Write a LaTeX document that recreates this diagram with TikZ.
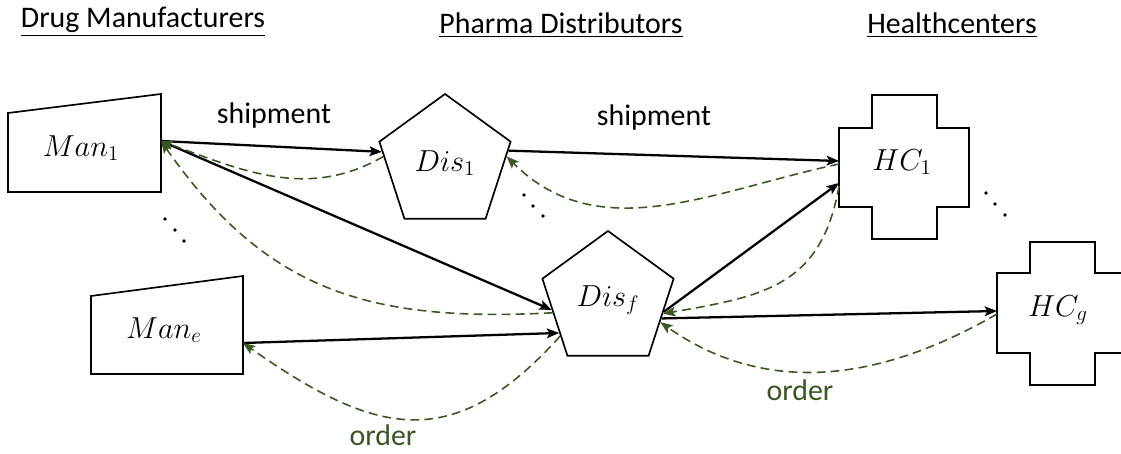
\documentclass[tikz,border=0pt]{standalone}
\usepackage{fontspec}
\setmainfont{Carlito}
\usetikzlibrary{arrows.meta,shapes.geometric}
\definecolor{ordergreen}{HTML}{385723}

\begin{document}
\begin{tikzpicture}[x=0.02cm,y=0.02cm,>={Stealth[length=7pt,width=5.5pt,inset=1.5pt]}]
\tikzstyle{every node}=[inner sep=0pt]
\tikzstyle{heading}=[font=\fontsize{17}{20}\selectfont]
\tikzstyle{flowlabel}=[font=\fontsize{17}{20}\selectfont]
\tikzstyle{unit}=[font=\fontsize{17.5}{20}\selectfont]
\tikzstyle{outline}=[draw,line width=0.95pt]
\tikzstyle{dist}=[outline,unit,regular polygon,regular polygon sides=5,minimum size=2.76cm]
\tikzstyle{ship}=[->,line width=1.3pt]
\tikzstyle{order}=[->,ordergreen,line width=0.9pt,dash pattern=on 5pt off 3pt]

\useasboundingbox (0,0) rectangle (1121,453);

% column headings
\node[heading] (hMan) at (143,431) {\underline{Drug Manufacturers}};
\node[heading] (hDis) at (561,428) {\underline{Pharma Distributors}};
\node[heading] (hHC)  at (952,428) {\underline{Healthcenters}};

% manufacturers
\draw[outline] (8,261) -- (8,340) -- (161,359) -- (161,261) -- cycle;
\node[unit] (Man1) at (81,305) {$Man_1$};
\draw[outline] (91,79) -- (91,157) -- (243,177) -- (243,79) -- cycle;
\node[unit] (Mane) at (164,123) {$Man_e$};
\coordinate (Man1p) at (161,312);
\coordinate (Manep) at (243,110);

% distributors
\node[dist] (Dis1) at (445,290) {$Dis_1$};
\node[dist] (Disf) at (608,153) {$Dis_f$};

% healthcenters
\draw[outline] (872,358) -- (937,358) -- (937,325) -- (969,325) -- (969,246) -- (937,246)
  -- (937,214) -- (872,214) -- (872,246) -- (839,246) -- (839,325) -- (872,325) -- cycle;
\node[unit] (HC1) at (902,291) {$HC_1$};
\draw[outline] (1030,211) -- (1095,211) -- (1095,180) -- (1128,180) -- (1128,100) -- (1095,100)
  -- (1095,68) -- (1030,68) -- (1030,100) -- (997,100) -- (997,180) -- (1030,180) -- cycle;
\node[unit] (HCg) at (1058,143) {$HC_g$};
\coordinate (HC1a) at (839,292);
\coordinate (HC1b) at (839,289);
\coordinate (HC1c) at (839,270);
\coordinate (HC1d) at (839,267);
\coordinate (HCga) at (997,142);
\coordinate (HCgb) at (997,139);

% dots
\foreach \p in {(165,234),(175,223),(184,212),(524,258),(533,247),(543,237),(986,260),(995,249),(1005,238)}
  \fill \p circle (1.8);

% shipments
\draw[ship] (Man1p) -- (Dis1.170);
\draw[ship] (Man1p) -- (Disf.190);
\draw[ship] (Manep) -- (Disf.214);
\draw[ship] (Dis1.11) -- (HC1a);
\draw[ship] (Disf.-12) -- (HC1c);
\draw[ship] (Disf.-19) -- (HCga);

% orders
\draw[order] (Dis1.174) to[out=210,in=-20] (Man1p);
\draw[order] (Disf.193) to[out=183,in=-55,looseness=1.1] (Man1p);
\draw[order] (HC1b) to[out=192,in=-45] (Dis1.6);
\draw[order] (HC1d) to[out=-100,in=10,looseness=1.2] (Disf.-14);
\draw[order] (HCgb) to[out=210,in=-35] (Disf.-23);
\draw[order] (Disf.217) to[out=228,in=-35,looseness=1.3] (Manep);

\node[flowlabel] (ship1) at (274,337) {shipment};
\node[flowlabel] (ship2) at (654,335) {shipment};
\node[flowlabel,text=ordergreen] (order1) at (383,18) {order};
\node[flowlabel,text=ordergreen] (order2) at (800,63) {order};
\end{tikzpicture}
\end{document}
